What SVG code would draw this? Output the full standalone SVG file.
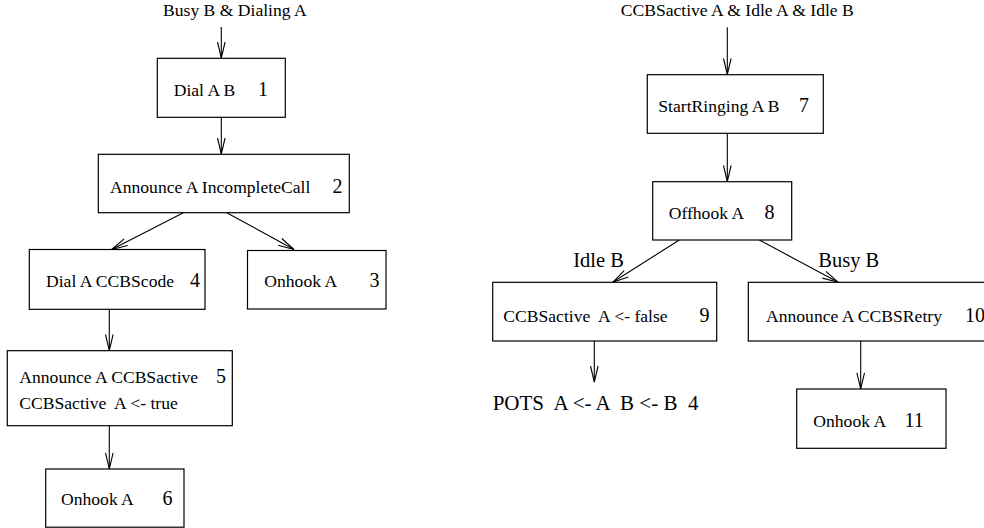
<svg xmlns="http://www.w3.org/2000/svg" width="984" height="528" viewBox="0 0 984 528">
<style>
text{font-family:"Liberation Serif","Times New Roman",serif;fill:#000;white-space:pre}
.t{font-size:17.6px}
.n{font-size:20px}
.l{font-size:20.5px}
.p{font-size:21px}
rect{fill:#fff;stroke:#000;stroke-width:1.2}
.c line{stroke:#000;stroke-width:1.1;marker-end:url(#a)}
</style>
<defs>
<marker id="a" markerUnits="userSpaceOnUse" markerWidth="20" markerHeight="12" viewBox="-17 -6 18 12" refX="0" refY="0" orient="auto" overflow="visible">
<path d="M-16,-3.8 L0,0 L-16,3.8" fill="none" stroke="#000" stroke-width="1.1"/>
</marker>
</defs>
<g id="connectors" class="c">
<line x1="221.3" y1="27" x2="221.3" y2="58"/>
<line x1="221.3" y1="117" x2="221.3" y2="154"/>
<line x1="183.3" y1="212.7" x2="111.7" y2="249.5"/>
<line x1="226.7" y1="212.7" x2="294" y2="249.5"/>
<line x1="109.3" y1="309.3" x2="109.3" y2="350.5"/>
<line x1="109.3" y1="425.7" x2="109.3" y2="468.8"/>
<line x1="727.3" y1="27.3" x2="727.3" y2="74.5"/>
<line x1="727.3" y1="133.3" x2="727.3" y2="181.5"/>
<line x1="679.3" y1="240" x2="612.7" y2="282.3"/>
<line x1="759.3" y1="240" x2="838.3" y2="282.3"/>
<line x1="594.3" y1="341" x2="594.3" y2="382"/>
<line x1="860.7" y1="341" x2="860.7" y2="388.8"/>
</g>
<g id="cond-left"><text class="t" x="163" y="16">Busy B &amp; Dialing A</text></g>
<g id="node1"><rect x="157.3" y="58.3" width="128" height="59"/><text class="t" x="173.7" y="96">Dial A B</text><text class="n" x="258" y="96">1</text></g>
<g id="node2"><rect x="98.3" y="154.3" width="251" height="58.4"/><text class="t" x="110" y="192.7">Announce A IncompleteCall</text><text class="n" x="332.5" y="192.7">2</text></g>
<g id="node4"><rect x="29.3" y="249.5" width="175.7" height="59.8"/><text class="t" x="46" y="286.7">Dial A CCBScode</text><text class="n" x="190" y="286.7">4</text></g>
<g id="node3"><rect x="247.5" y="250.5" width="138.5" height="58.5"/><text class="t" x="264.3" y="286.7">Onhook A</text><text class="n" x="369.5" y="286.7">3</text></g>
<g id="node5"><rect x="7.3" y="350.7" width="225" height="75"/><text class="t" x="19.3" y="383.3">Announce A CCBSactive</text><text class="n" x="216" y="383.3">5</text><text class="t" x="19.3" y="409.3">CCBSactive  A &lt;- true</text></g>
<g id="node6"><rect x="45.7" y="469" width="138.3" height="58.2"/><text class="t" x="61" y="505">Onhook A</text><text class="n" x="162.5" y="505">6</text></g>
<g id="cond-right"><text class="t" x="620.7" y="16">CCBSactive A &amp; Idle A &amp; Idle B</text></g>
<g id="node7"><rect x="647.3" y="74.7" width="176" height="58.6"/><text class="t" x="658.3" y="111.7">StartRinging A B</text><text class="n" x="799" y="111.7">7</text></g>
<g id="node8"><rect x="652.7" y="181.7" width="139" height="58.3"/><text class="t" x="668.7" y="219">Offhook A</text><text class="n" x="764.5" y="219">8</text></g>
<g id="label-idle"><text class="l" x="573.3" y="266.7">Idle B</text></g>
<g id="label-busy"><text class="l" x="818.3" y="266.7">Busy B</text></g>
<g id="node9"><rect x="492.7" y="282.3" width="224" height="58.7"/><text class="t" x="503.3" y="321.7">CCBSactive  A &lt;- false</text><text class="n" x="699.5" y="321.7">9</text></g>
<g id="node10"><rect x="748.3" y="282.3" width="250" height="58.7"/><text class="t" x="766" y="321.7">Announce A CCBSRetry</text><text class="n" x="965" y="321.7">10</text></g>
<g id="pots"><text class="p" x="492.7" y="410">POTS  A &lt;- A  B &lt;- B  4</text></g>
<g id="node11"><rect x="796.7" y="389" width="149.3" height="59.3"/><text class="t" x="813.3" y="426.7">Onhook A</text><text class="n" x="904.5" y="426.7">11</text></g>
</svg>
